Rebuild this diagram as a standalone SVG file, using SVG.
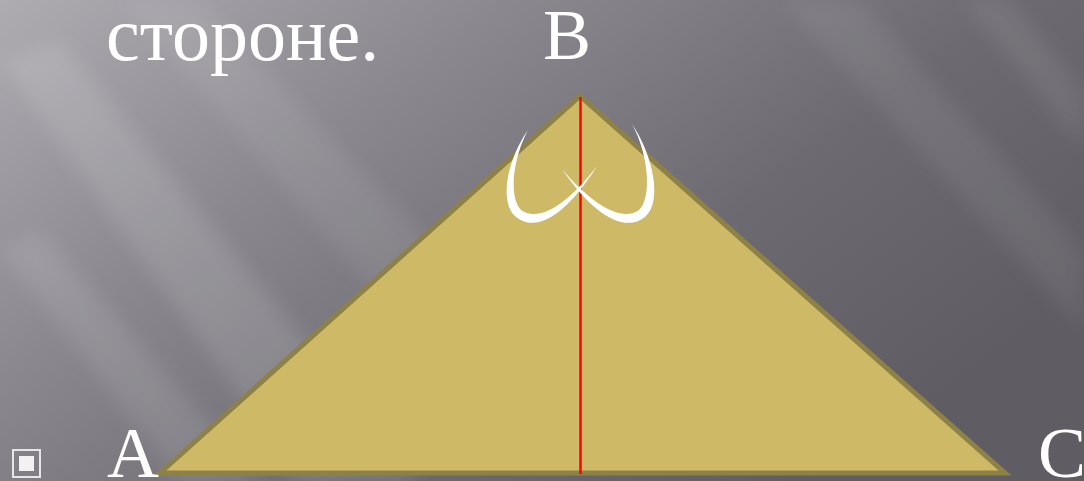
<svg xmlns="http://www.w3.org/2000/svg" width="1084" height="481" viewBox="0 0 1084 481">
<defs>
<linearGradient id="bg" x1="0" y1="0" x2="1" y2="0.6">
<stop offset="0" stop-color="#aeacb1"/>
<stop offset="0.35" stop-color="#8a888e"/>
<stop offset="0.7" stop-color="#6c6a70"/>
<stop offset="1" stop-color="#5f5d63"/>
</linearGradient>
<filter id="blur" x="-20%" y="-20%" width="140%" height="140%"><feGaussianBlur stdDeviation="10"/></filter>
<style>
.lbl{font-family:"Liberation Serif","Times New Roman",serif;fill:#ffffff;}
.heart{fill:#ffffff;}
</style>
</defs>
<rect width="1084" height="481" fill="url(#bg)"/>
<g filter="url(#blur)" fill="#ffffff">
<polygon points="0,60 60,40 420,481 300,481" opacity="0.12"/>
<polygon points="120,0 200,0 560,380 470,400" opacity="0.08"/>
<polygon points="0,250 40,230 260,481 180,481" opacity="0.1"/>
<polygon points="780,0 860,0 1084,250 1084,330" opacity="0.07"/>
<polygon points="960,0 1010,0 1084,90 1084,150" opacity="0.08"/>
</g>
<g id="icon">
<rect x="13" y="450" width="27" height="27" fill="none" stroke="#e6e6e6" stroke-width="2"/>
<rect x="19" y="456" width="15" height="15" fill="#f2f2f2"/>
</g>
<g id="triangle">
<polygon points="160,473 580,96 1005,473" fill="#cdb966" stroke="#8d8246" stroke-width="5" stroke-linejoin="miter"/>
</g>
<g id="connectors">
<line x1="580.5" y1="97" x2="580.5" y2="474" stroke="#ff0000" stroke-width="2.5"/>
</g>
<g id="arcs">
<path class="heart" d="M528,130 C508,158 498,202 516,217 C536,233 566,216 597,166 C563,210 537,221 521,210 C509,198 512,160 528,130 Z"/>
<path class="heart" d="M632,124 C653,155 663,202 645,217 C625,233 594,216 562,169 C597,210 624,221 639,210 C652,198 649,155 632,124 Z"/>
</g>
<g id="texts">
<text class="lbl" x="106" y="60" font-size="76">стороне.</text>
<text class="lbl" x="543" y="59" font-size="72">B</text>
<text class="lbl" x="107" y="477" font-size="72">A</text>
<text class="lbl" x="1038" y="477" font-size="72">C</text>
</g>
</svg>
